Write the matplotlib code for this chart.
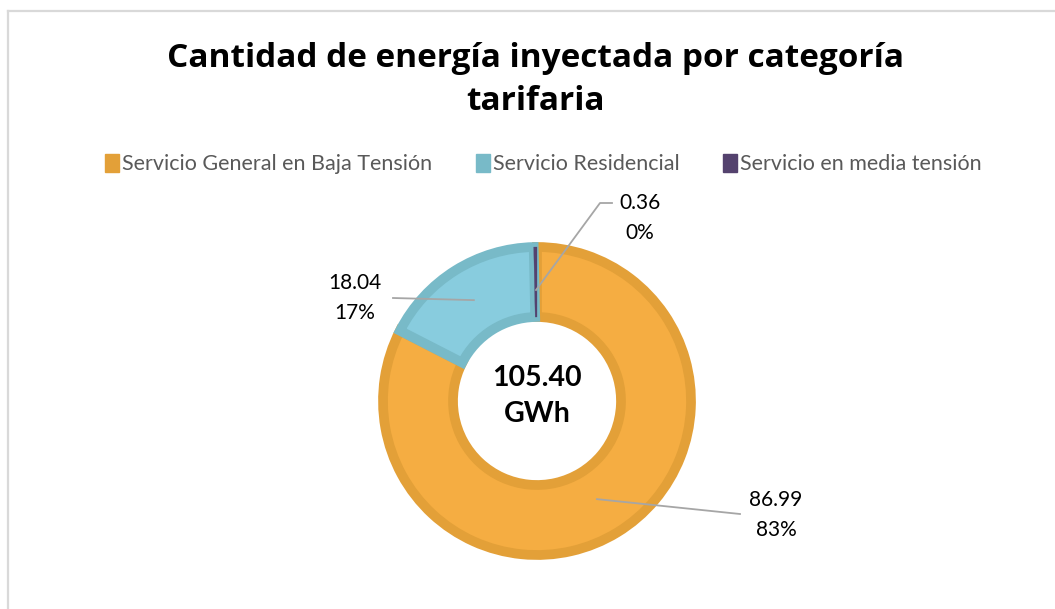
import numpy as np
import matplotlib
matplotlib.use("Agg")
import matplotlib.pyplot as plt
from matplotlib.patches import Rectangle
from matplotlib.lines import Line2D

categorias = ["Servicio General en Baja Tensión", "Servicio Residencial", "Servicio en media tensión"]
energia_gwh = [86.99, 18.04, 0.36]
colores = ["#F5AD42", "#88CCDE", "#54426E"]
bordes = ["#E3A038", "#78BAC8", "#54426E"]
titulo = "Cantidad de energía inyectada por categoría\ntarifaria"
texto_centro = "105.40\nGWh"

plt.rcParams['font.family'] = ['Lato', 'DejaVu Sans']

fig = plt.figure(figsize=(10.55, 6.09), dpi=100)
ax = fig.add_axes([0, 0, 1, 1])

centro = (537, 208)
radio = 154
ancho = 70

wedges, _ = ax.pie(energia_gwh, colors=colores, startangle=90, counterclock=False,
                   center=centro, radius=radio, frame=True,
                   wedgeprops=dict(width=ancho, linewidth=7))
for w, b in zip(wedges, bordes):
    w.set_edgecolor(b)
wedges[2].set_linewidth(0.2)
ax.set_xlim(0, 1055)
ax.set_ylim(0, 609)
ax.set_aspect("auto")
ax.axis("off")

# marco del grafico
ax.add_line(Line2D([8, 8], [0, 598], color="#D9D9D9", lw=1.6))
ax.add_line(Line2D([8, 1055], [598, 598], color="#D9D9D9", lw=1.6))

ax.text(centro[0], centro[1] + 5, texto_centro, ha="center", va="center",
        fontsize=20.5, fontweight="bold", color="black", linespacing=1.45)

fig.text(0.508, 0.869, titulo, ha="center", va="center", fontsize=24,
         fontweight="bold", color="#000000", linespacing=1.42,
         family=["Open Sans", "DejaVu Sans"])

# leyenda
total = sum(energia_gwh)
manejadores = [Rectangle((0, 0), 1, 1, color=c) for c in bordes]
ax.legend(manejadores, categorias, loc="center", bbox_to_anchor=(0.515, 0.73),
          ncol=3, frameon=False, fontsize=15.5, labelcolor="#595959",
          handlelength=0.65, handleheight=0.85, handletextpad=0.15, columnspacing=2.0)

# etiquetas de datos con lineas guia
pos_textos = [(776, 94), (355, 311), (640, 391)]
radio_ancla = [radio - ancho / 2 - 4, radio - ancho / 2, radio - ancho / 2 - 8]
for w, val, pos, ra in zip(wedges, energia_gwh, pos_textos, radio_ancla):
    ang = np.deg2rad((w.theta1 + w.theta2) / 2)
    if val < 1:
        ang = np.deg2rad(w.theta1 + 0.5)
    x0 = centro[0] + ra * np.cos(ang)
    y0 = centro[1] + ra * np.sin(ang)
    etiqueta = f"{val:.2f}\n{val / total * 100:.0f}%"
    ax.text(pos[0], pos[1], etiqueta, ha="center", va="center", fontsize=15,
            color="black", linespacing=1.6)
    if pos[0] > centro[0] and pos[1] > centro[1]:
        ax.plot([x0, pos[0] - 40, pos[0] - 28], [y0, pos[1] + 15, pos[1] + 15],
                color="#A6A6A6", lw=1.3)
    elif pos[0] > centro[0]:
        ax.plot([x0, pos[0] - 36], [y0, pos[1] + 1], color="#A6A6A6", lw=1.3)
    else:
        ax.plot([x0, pos[0] + 38], [y0, pos[1]], color="#A6A6A6", lw=1.3)

fig.savefig("out.png", dpi=100)
